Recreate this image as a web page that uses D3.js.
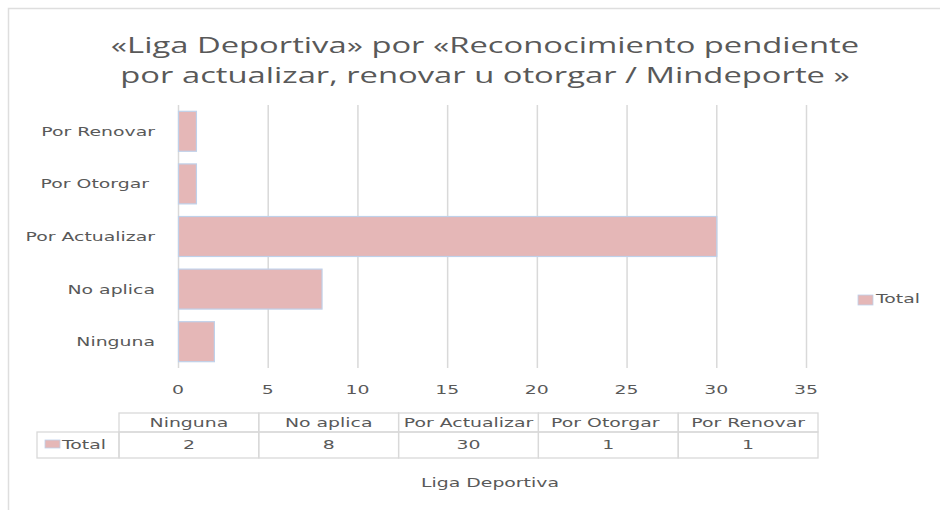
<!DOCTYPE html>
<html>
<head>
<meta charset="utf-8">
<script src="https://cdn.jsdelivr.net/npm/d3@7"></script>
<style>
  body { margin: 0; background: #fff; }
  svg text { fill: #595959; white-space: pre; }
</style>
</head>
<body>
<div id="chart"></div>
<script>
// datos
const titleLines = ["«Liga Deportiva» por «Reconocimiento pendiente", "por actualizar, renovar u otorgar / Mindeporte »"];
const categories = ["Ninguna", "No aplica", "Por Actualizar", "Por Otorgar ", "Por Renovar"];
const totals = [2, 8, 30, 1, 1];
const seriesName = "Total";
const xTicks = [0, 5, 10, 15, 20, 25, 30, 35];
const axisTitle = "Liga Deportiva";

const W = 940, H = 510;
const SX = 1.45;        // el original está estirado a lo ancho
const TITLE_SX = 1.56;
const barFill = "#e5b7b7", barStroke = "#bfd1ea", gridColor = "#d9d9d9";

const data = categories.map((c, i) => ({ cat: c, val: totals[i] }));

const svg = d3.select("#chart").append("svg")
    .attr("width", W)
    .attr("height", H);

// marco exterior
svg.append("rect")
    .attr("x", 8.5).attr("y", 8.5)
    .attr("width", W + 10).attr("height", H + 10)
    .attr("fill", "none")
    .attr("stroke", "#dedede")
    .attr("stroke-width", 1.5);

// texto con estiramiento horizontal
function putText(g, str, x, y, anchor, sx, size, family) {
    return g.append("text")
        .attr("transform", `translate(${x},${y}) scale(${sx},1)`)
        .attr("text-anchor", anchor)
        .attr("dominant-baseline", "central")
        .style("font-family", family || "'DejaVu Sans', Verdana, sans-serif")
        .style("font-size", (size || 13) + "px")
        .text(str);
}

// título
titleLines.forEach((t, i) => {
    putText(svg, t, 485, 45 + i * 30, "middle", TITLE_SX, 21, "'Open Sans', Calibri, sans-serif");
});

// escalas
const x = d3.scaleLinear().domain([0, 35]).range([178, 806]);
const y = d3.scaleBand()
    .domain(categories.slice().reverse())
    .range([105, 368])
    .paddingInner(0.24)
    .paddingOuter(0.12);

// rejilla
svg.append("g").selectAll("line")
    .data(xTicks)
    .join("line")
    .attr("x1", d => x(d) + 0.5).attr("x2", d => x(d) + 0.5)
    .attr("y1", 105).attr("y2", 368)
    .attr("stroke", gridColor)
    .attr("stroke-width", 1.5);

// barras
svg.append("g").selectAll("rect")
    .data(data)
    .join("rect")
    .attr("x", x(0) + 0.5)
    .attr("y", d => y(d.cat))
    .attr("width", d => x(d.val) - x(0))
    .attr("height", y.bandwidth())
    .attr("fill", barFill)
    .attr("stroke", barStroke)
    .attr("stroke-width", 1.2);

// etiquetas de categorías
const yl = svg.append("g");
data.forEach(d => {
    putText(yl, d.cat, 155, y(d.cat) + y.bandwidth() / 2, "end", SX);
});

// etiquetas del eje x
const xl = svg.append("g");
xTicks.forEach(t => {
    putText(xl, String(t), x(t), 390, "middle", SX);
});

// tabla de datos
const tableOrder = categories;
const col = d3.scaleBand().domain(tableOrder).range([119, 818]);
const rowTop = 413, rowMid = 432, rowBot = 458;
const tg = svg.append("g");
const border = { fill: "none", stroke: "#d9d9d9", "stroke-width": 1.3 };

tableOrder.forEach((c, i) => {
    tg.append("rect")
        .attr("x", col(c)).attr("y", rowTop)
        .attr("width", col.bandwidth()).attr("height", rowMid - rowTop)
        .attr("fill", border.fill).attr("stroke", border.stroke).attr("stroke-width", border["stroke-width"]);
    tg.append("rect")
        .attr("x", col(c)).attr("y", rowMid)
        .attr("width", col.bandwidth()).attr("height", rowBot - rowMid)
        .attr("fill", border.fill).attr("stroke", border.stroke).attr("stroke-width", border["stroke-width"]);
    putText(tg, c, col(c) + col.bandwidth() / 2, (rowTop + rowMid) / 2, "middle", SX);
    putText(tg, String(totals[i]), col(c) + col.bandwidth() / 2, (rowMid + rowBot) / 2, "middle", SX);
});

// celda de leyenda de la tabla
tg.append("rect")
    .attr("x", 37).attr("y", rowMid)
    .attr("width", 119 - 37).attr("height", rowBot - rowMid)
    .attr("fill", border.fill).attr("stroke", border.stroke).attr("stroke-width", border["stroke-width"]);
tg.append("rect")
    .attr("x", 45).attr("y", 440).attr("width", 15).attr("height", 8)
    .attr("fill", barFill).attr("stroke", barStroke).attr("stroke-width", 0.8);
putText(tg, seriesName, 62, 445, "start", SX);

// título del eje
putText(svg, axisTitle, 490, 483, "middle", SX);

// leyenda derecha
svg.append("rect")
    .attr("x", 858).attr("y", 295).attr("width", 15).attr("height", 10)
    .attr("fill", barFill).attr("stroke", barStroke).attr("stroke-width", 0.8);
putText(svg, seriesName, 876, 299, "start", SX);
</script>
</body>
</html>
